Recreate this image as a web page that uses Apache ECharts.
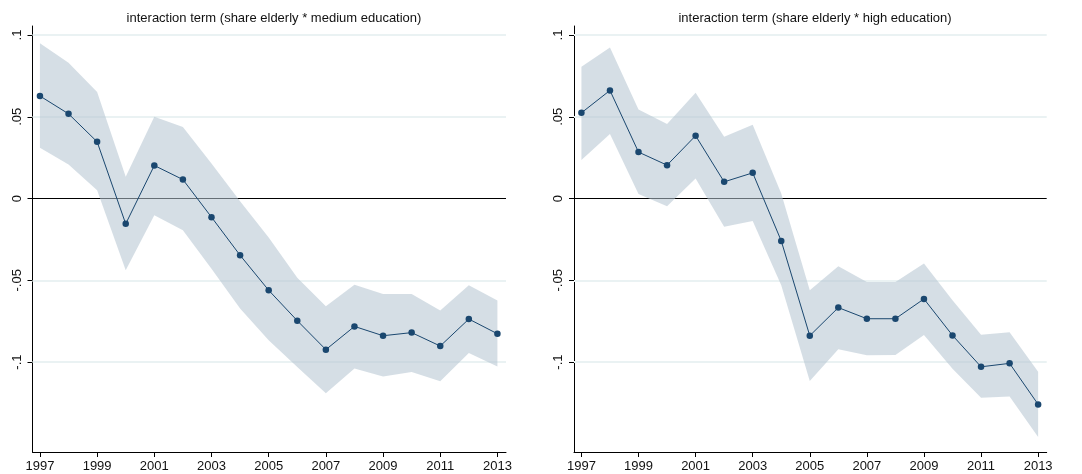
<!DOCTYPE html>
<html>
<head>
<meta charset="utf-8">
<script src="https://cdn.jsdelivr.net/npm/echarts@6/dist/echarts.min.js"></script>
<style>
  html, body { margin: 0; padding: 0; background: #fff; }
  #chart { width: 1082px; height: 474px; }
</style>
</head>
<body>
<div id="chart"></div>
<script>
// Years and year tick labels
const years = [1997, 1998, 1999, 2000, 2001, 2002, 2003, 2004, 2005, 2006, 2007, 2008, 2009, 2010, 2011, 2012, 2013];
const yearTicks = [1997, 1999, 2001, 2003, 2005, 2007, 2009, 2011, 2013];
const yTicks = [-0.1, -0.05, 0, 0.05, 0.1];

// Panel titles
const titleMedium = 'interaction term (share elderly * medium education)';
const titleHigh = 'interaction term (share elderly * high education)';

// Medium education: coefficient and 95% confidence bounds
const medCoef  = [0.0627, 0.0518, 0.0347, -0.0155, 0.0202, 0.0116, -0.0114, -0.0347, -0.0561, -0.0747, -0.0924, -0.0782, -0.0839, -0.0820, -0.0902, -0.0737, -0.0827];
const medUpper = [0.0949, 0.0831, 0.0651, 0.0133, 0.0500, 0.0437, 0.0214, -0.0016, -0.0239, -0.0484, -0.0659, -0.0527, -0.0584, -0.0584, -0.0684, -0.0531, -0.0624];
const medLower = [0.0310, 0.0208, 0.0051, -0.0439, -0.0102, -0.0194, -0.0429, -0.0673, -0.0867, -0.1030, -0.1190, -0.1040, -0.1088, -0.1061, -0.1118, -0.0945, -0.1027];

// High education: coefficient and 95% confidence bounds
const highCoef  = [0.0524, 0.0661, 0.0284, 0.0204, 0.0384, 0.0102, 0.0157, -0.0259, -0.0839, -0.0667, -0.0735, -0.0735, -0.0614, -0.0837, -0.1029, -0.1008, -0.1259];
const highUpper = [0.0806, 0.0924, 0.0545, 0.0455, 0.0647, 0.0378, 0.0451, 0.0030, -0.0561, -0.0414, -0.0510, -0.0510, -0.0398, -0.0622, -0.0833, -0.0818, -0.1059];
const highLower = [0.0235, 0.0394, 0.0027, -0.0047, 0.0122, -0.0173, -0.0137, -0.0530, -0.1116, -0.0922, -0.0959, -0.0957, -0.0835, -0.1041, -0.1218, -0.1210, -0.1459];

const navy = '#1a476f';
const bandColor = 'rgba(180,196,209,0.56)';
const gridColor = '#eaf2f3';
const font = 'Liberation Sans, Arial, sans-serif';

function fmtY(v) {
  if (Math.abs(v) < 1e-9) return '0';
  const s = String(Math.round(v * 1000) / 1000);
  return s.replace('0.', '.');
}

function xAxisFor(gi) {
  return {
    type: 'value', gridIndex: gi, min: 1996.74, max: 2013.3,
    axisLine: { show: true, onZero: false, lineStyle: { color: '#000', width: 1 } },
    axisTick: { show: true, length: 5, lineStyle: { color: '#000' }, customValues: yearTicks },
    axisLabel: { customValues: yearTicks, color: '#111', fontFamily: font, fontSize: 13, margin: 8, formatter: v => String(v) },
    splitLine: { show: false }
  };
}

function yAxisFor(gi) {
  return {
    type: 'value', gridIndex: gi, min: -0.155, max: 0.1055,
    axisLine: { show: true, onZero: false, lineStyle: { color: '#000', width: 1 } },
    axisTick: { show: true, length: 5, lineStyle: { color: '#000' }, customValues: yTicks },
    axisLabel: { customValues: yTicks, rotate: 90, color: '#111', fontFamily: font, fontSize: 13, margin: 9, formatter: fmtY },
    splitLine: { show: false }
  };
}

function pairs(vals) { return years.map((y, i) => [y, vals[i]]); }

// Confidence band: one polygon through the upper bounds and back along the lower bounds
function bandRenderer(upper, lower) {
  return function (params, api) {
    if (params.dataIndexInside !== 0) return null;
    const pts = [];
    for (let i = 0; i < years.length; i++) pts.push(api.coord([years[i], upper[i]]));
    for (let i = years.length - 1; i >= 0; i--) pts.push(api.coord([years[i], lower[i]]));
    return {
      type: 'polygon',
      shape: { points: pts },
      style: { fill: bandColor, stroke: null },
      silent: true
    };
  };
}

function panelSeries(gi, coef, upper, lower) {
  return [
    {
      type: 'custom', xAxisIndex: gi, yAxisIndex: gi, z: 2, silent: true,
      data: years.map((y, i) => [y, lower[i], upper[i]]),
      encode: { x: 0, y: [1, 2] },
      renderItem: bandRenderer(upper, lower)
    },
    {
      type: 'line', xAxisIndex: gi, yAxisIndex: gi, data: pairs(coef),
      symbol: 'circle', symbolSize: 6.5, itemStyle: { color: navy },
      lineStyle: { color: navy, width: 1 }, z: 3,
      markLine: {
        z: 1, silent: true, symbol: 'none', label: { show: false }, animation: false,
        data: [
          { yAxis: 0.1, lineStyle: { color: gridColor, width: 2, type: 'solid' } },
          { yAxis: 0.05, lineStyle: { color: gridColor, width: 2, type: 'solid' } },
          { yAxis: -0.05, lineStyle: { color: gridColor, width: 2, type: 'solid' } },
          { yAxis: -0.1, lineStyle: { color: gridColor, width: 2, type: 'solid' } },
          { yAxis: 0, lineStyle: { color: '#000', width: 1, type: 'solid' } }
        ]
      }
    }
  ];
}

const chart = echarts.init(document.getElementById('chart'), null, { renderer: 'canvas' });
chart.setOption({
  animation: false,
  backgroundColor: '#fff',
  title: [
    { text: titleMedium, left: 269, top: 7, textAlign: 'center',
      textStyle: { fontFamily: font, fontSize: 13, fontWeight: 'normal', color: '#111' } },
    { text: titleHigh, left: 810, top: 7, textAlign: 'center',
      textStyle: { fontFamily: font, fontSize: 13, fontWeight: 'normal', color: '#111' } }
  ],
  grid: [
    { left: 32.5, top: 26, width: 473.5, height: 426 },
    { left: 574, top: 26, width: 472.7, height: 426 }
  ],
  xAxis: [xAxisFor(0), xAxisFor(1)],
  yAxis: [yAxisFor(0), yAxisFor(1)],
  series: [
    ...panelSeries(0, medCoef, medUpper, medLower),
    ...panelSeries(1, highCoef, highUpper, highLower)
  ]
});
</script>
</body>
</html>
